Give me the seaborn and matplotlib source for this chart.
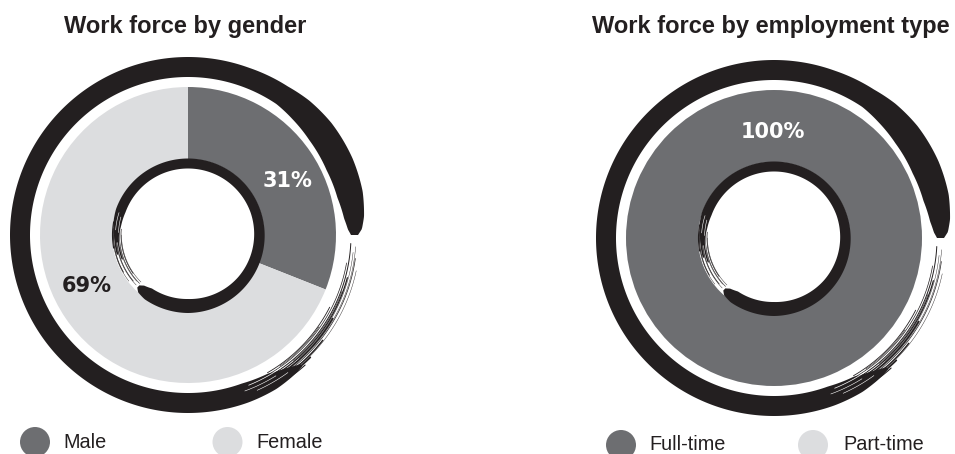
import numpy as np
import matplotlib
matplotlib.use("Agg")
import matplotlib.pyplot as plt
from matplotlib.patches import Polygon, Circle
import seaborn as sns

# ---------------- data ----------------
gender_labels = ["Male", "Female"]
gender_values = [31, 69]
employment_labels = ["Full-time", "Part-time"]
employment_values = [100, 0]
titles = ["Work force by gender", "Work force by employment type"]

# ---------------- style ----------------
C_DARK = "#6d6e71"
C_LIGHT = "#dcdddf"
C_INK = "#231f20"
slice_colors = [C_DARK, C_LIGHT]

sns.set_theme(style="white")
plt.rcParams["font.family"] = ["Liberation Sans", "DejaVu Sans"]

W, H = 955, 454
fig = plt.figure(figsize=(W / 100, H / 100), dpi=100)
ax = fig.add_axes([0, 0, 1, 1])


def Y(y):
    return H - y


PIE_R = 148
PIE_W = 72

# brush ring profiles (angle deg, inner radius, outer radius)
OUT_TH = [0, 2, 6, 14, 25, 38, 48, 56, 70, 290, 300, 306, 311]
OUT_RI = [163, 160, 157, 154, 153, 154, 156, 158, 158, 158, 160, 165, 171]
OUT_RO = [170, 174, 177, 180, 181.5, 182, 181, 179, 178, 178, 177.5, 176, 174]
OUT_BRISTLES = [(159, 300, 333, 0.6), (161, 297, 350, 0.5), (163, 302, 357, 0.7),
                (165, 296, 345, 0.9), (167, 300, 330, 1.2), (169, 298, 352, 0.5),
                (171, 296, 322, 1.0), (173, 295, 315, 1.2), (160, 305, 325, 0.4),
                (164, 310, 340, 0.4), (168, 305, 356, 0.3), (172, 310, 348, 0.3),
                (175, 296, 312, 0.8), (166, 312, 354, 0.3)]
OUT_WHITE = [(162, 292, 305, 0.5), (166, 290, 302, 0.4), (170, 294, 306, 0.4)]

IN_TH = [226, 229, 236, 270, 320, 380, 520, 532, 546]
IN_RI = [70, 67, 64.5, 64, 65.5, 66.5, 66.5, 67.5, 70]
IN_RO = [73, 76, 77.5, 78, 77, 76.5, 76.5, 75.5, 73]
IN_BRISTLES = [(67, 535, 575, 0.5), (68.5, 530, 585, 0.4), (70, 538, 560, 1.0),
               (71.5, 535, 580, 0.5), (73, 532, 555, 1.2), (74.5, 535, 570, 0.6),
               (75.5, 530, 550, 0.8), (66.5, 540, 585, 0.3), (72, 545, 584, 0.3),
               (75, 540, 578, 0.3), (69, 550, 582, 0.3)]
IN_WHITE = [(69.5, 525, 538, 0.4), (72.5, 522, 536, 0.4)]


def brush_ring(cx, cy, th, ri, ro, bristles, whites):
    t = np.linspace(th[0], th[-1], 500)
    rin = np.interp(t, th, ri)
    rout = np.interp(t, th, ro)
    tr = np.radians(t)
    xo, yo = cx + rout * np.cos(tr), cy + rout * np.sin(tr)
    xi, yi = cx + rin * np.cos(tr), cy + rin * np.sin(tr)
    pts = np.column_stack([np.concatenate([xo, xi[::-1]]), np.concatenate([yo, yi[::-1]])])
    ax.add_patch(Polygon(pts, closed=True, facecolor=C_INK, edgecolor="none", zorder=3))
    for r, a0, a1, lw in bristles:
        a = np.radians(np.linspace(a0, a1, 120))
        ax.plot(cx + r * np.cos(a), cy + r * np.sin(a), color=C_INK, lw=lw,
                solid_capstyle="round", zorder=3)
    for r, a0, a1, lw in whites:
        a = np.radians(np.linspace(a0, a1, 60))
        ax.plot(cx + r * np.cos(a), cy + r * np.sin(a), color="white", lw=lw, zorder=4)


panels = [
    dict(center=(188, 235), values=gender_values, labels=gender_labels, title=titles[0],
         title_x=185, label_pos=[(287, 181), (87, 286)], label_colors=["white", C_INK],
         legend_y=442, legend_base=448, legend_cx=[35, 227.5], legend_tx=[63, 256]),
    dict(center=(774, 238), values=employment_values, labels=employment_labels, title=titles[1],
         title_x=771, label_pos=[(773, 132), None], label_colors=["white", C_INK],
         legend_y=445, legend_base=450, legend_cx=[621, 813], legend_tx=[649, 843]),
]

for p in panels:
    cx, cy = p["center"][0], Y(p["center"][1])
    ax.pie(p["values"], colors=slice_colors, startangle=90, counterclock=False,
           center=(cx, cy), radius=PIE_R, normalize=True,
           wedgeprops=dict(width=PIE_W, linewidth=0, edgecolor="none"))
    brush_ring(cx, cy, OUT_TH, OUT_RI, OUT_RO, OUT_BRISTLES, OUT_WHITE)
    brush_ring(cx, cy, IN_TH, IN_RI, IN_RO, IN_BRISTLES, IN_WHITE)

    for v, pos, col in zip(p["values"], p["label_pos"], p["label_colors"]):
        if v > 0 and pos is not None:
            ax.text(pos[0], Y(pos[1]), f"{v}%", ha="center", va="center", color=col,
                    fontsize=15, fontweight="bold", family=["DejaVu Sans"], zorder=5)

    ax.text(p["title_x"], Y(33), p["title"], ha="center", va="baseline", fontsize=17,
            fontweight="bold", color=C_INK, zorder=5)

    for lab, col, lx, tx in zip(p["labels"], slice_colors, p["legend_cx"], p["legend_tx"]):
        ax.add_patch(Circle((lx, Y(p["legend_y"])), 15, facecolor=col, edgecolor="none",
                            clip_on=False, zorder=5))
        ax.text(tx, Y(p["legend_base"]), lab, ha="left", va="baseline", fontsize=14.3,
                color=C_INK, zorder=5)

ax.set_xlim(0, W)
ax.set_ylim(0, H)
ax.set_aspect("equal")
ax.axis("off")
fig.savefig("out.png", dpi=100, facecolor="white")
